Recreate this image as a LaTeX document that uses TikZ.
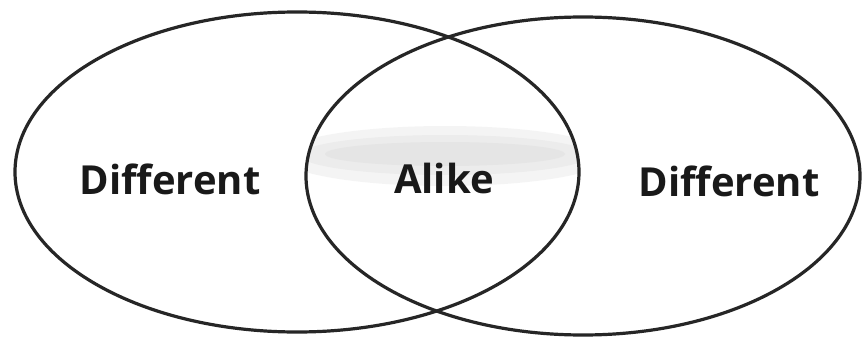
\documentclass[tikz,border=0pt]{standalone}
\usepackage{fontspec}
\setmainfont{Open Sans}[Ligatures=NoCommon]
\tikzset{
  venn/.style={draw=black!85, line width=3.2pt},
  lbl/.style={font=\fontsize{40}{42}\selectfont\bfseries, text=black!90, anchor=base, inner sep=0pt},
  haze/.style={fill=black!20, opacity=0.2}
}
\begin{document}
\begin{tikzpicture}[x=1pt,y=-1pt]
\useasboundingbox (0,0) rectangle (863,337);
\fill[white] (0,0) rectangle (863,337);
\begin{scope}
  \clip (297,172) ellipse [x radius=282, y radius=160];
  \clip (583,176) ellipse [x radius=277, y radius=159];
  \fill[haze] (445,156) ellipse [x radius=165, y radius=30];
  \fill[haze] (445,155) ellipse [x radius=145, y radius=20];
  \fill[haze] (445,154) ellipse [x radius=120, y radius=12];
\end{scope}
\draw[venn] (297,172) ellipse [x radius=282, y radius=160];
\draw[venn] (583,176) ellipse [x radius=277, y radius=159];
\node[lbl] (l) at (170,194) {Different};
\node[lbl] (m) at (444,193) {Alike};
\node[lbl] (r) at (729,196) {Different};
\end{tikzpicture}
\end{document}
